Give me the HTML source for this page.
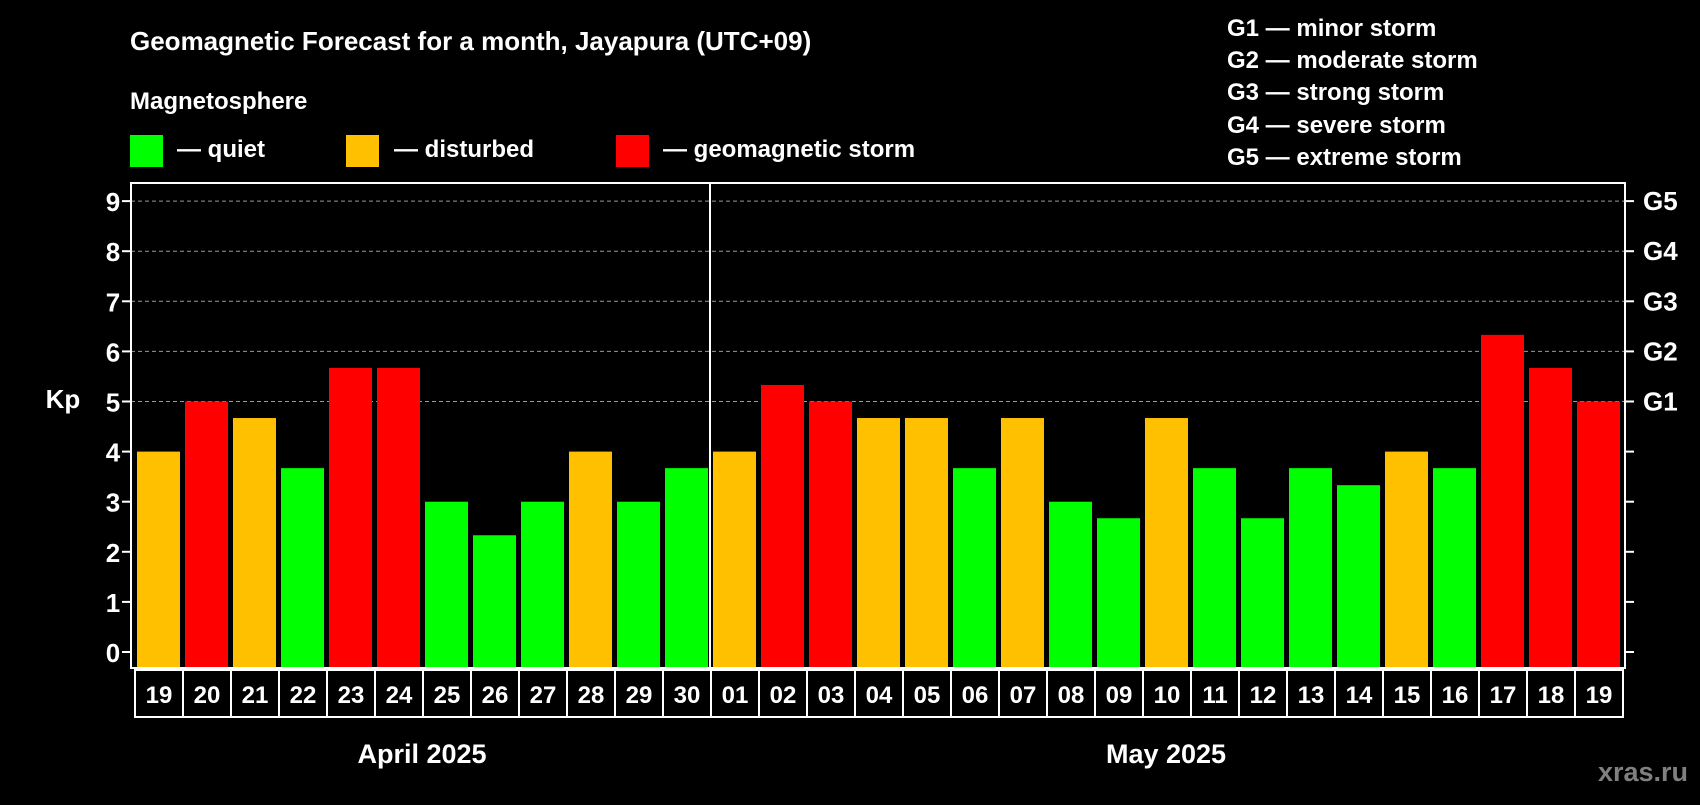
<!DOCTYPE html>
<html><head><meta charset="utf-8"><style>
body{margin:0;background:#000;width:1700px;height:800px;overflow:hidden}
svg text{font-family:"Liberation Sans",Arial,sans-serif;font-weight:bold;fill:#fff}
</style></head><body>
<svg id="chart" width="1700" height="800" xmlns="http://www.w3.org/2000/svg">
<rect width="1700" height="800" fill="#000"/>
<text x="130" y="50" font-size="26">Geomagnetic Forecast for a month, Jayapura (UTC+09)</text>
<text x="130" y="109" font-size="24">Magnetosphere</text>
<rect x="130" y="135" width="33" height="32" fill="#00ff00"/>
<text x="177" y="157" font-size="24">— quiet</text>
<rect x="346" y="135" width="33" height="32" fill="#ffc000"/>
<text x="394" y="157" font-size="24">— disturbed</text>
<rect x="616" y="135" width="33" height="32" fill="#ff0000"/>
<text x="663" y="157" font-size="24">— geomagnetic storm</text>
<g font-size="24">
<text x="1227" y="36">G1 — minor storm</text>
<text x="1227" y="68">G2 — moderate storm</text>
<text x="1227" y="100">G3 — strong storm</text>
<text x="1227" y="133">G4 — severe storm</text>
<text x="1227" y="165">G5 — extreme storm</text>
</g>
<text x="63" y="408" font-size="26" text-anchor="middle">Kp</text>
<text x="422" y="763" font-size="27" text-anchor="middle">April 2025</text>
<text x="1166" y="763" font-size="27" text-anchor="middle">May 2025</text>
<text x="1688" y="781" font-size="27" text-anchor="end" style="fill:#808080">xras.ru</text>
<g id="plot"></g>
</svg>
<script>
const days=["19","20","21","22","23","24","25","26","27","28","29","30","01","02","03","04","05","06","07","08","09","10","11","12","13","14","15","16","17","18","19"];
const kpValues=[4,5,4.67,3.67,5.67,5.67,3,2.33,3,4,3,3.67,4,5.33,5,4.67,4.67,3.67,4.67,3,2.67,4.67,3.67,2.67,3.67,3.33,4,3.67,6.33,5.67,5];
const yTicks=[0,1,2,3,4,5,6,7,8,9];
const gLabels=["G1","G2","G3","G4","G5"];
const gLevels=[5,6,7,8,9];
const NS="http://www.w3.org/2000/svg";
const g=document.getElementById('plot');
const X0=135,CW=48,PB=668,PL=131,PR=1625,PT=183;
const y=v=>652-v*50.1;
const x=i=>X0+i*CW;
function mk(t,a){const e=document.createElementNS(NS,t);for(const k in a)e.setAttribute(k,a[k]);g.appendChild(e);return e;}
// grid
gLevels.forEach((v,i)=>{
 const l=mk('line',{x1:PL,x2:PR,y1:y(v),y2:y(v),stroke:'#999','stroke-dasharray':'4,3','stroke-width':1});
 
 
 const t=mk('text',{x:1643,y:y(v)+9,'font-size':26});t.textContent=gLabels[i];
 
 
});
yTicks.forEach(v=>{
 mk('line',{x1:PL-9,x2:PL,y1:y(v),y2:y(v),stroke:'#fff','stroke-width':2});
 mk('line',{x1:PR,x2:PR+9,y1:y(v),y2:y(v),stroke:'#fff','stroke-width':2});
 const t=mk('text',{x:113,y:y(v)+10,'font-size':26,'text-anchor':'middle'});t.textContent=v;
 
 
});
kpValues.forEach((v,i)=>{
 const c=v>=5?'#ff0000':(v>=4?'#ffc000':'#00ff00');
 const r=mk('rect',{x:x(i)+2,y:y(v),width:43,height:PB-y(v),fill:c});
 
 
 const b=mk('rect',{x:x(i),y:670,width:CW,height:47,fill:'none',stroke:'#fff','stroke-width':2});
 
 
 const t=mk('text',{x:x(i)+CW/2,y:703,'font-size':24,'text-anchor':'middle'});t.textContent=days[i];
 
 
});
const f=mk('rect',{x:PL,y:PT,width:PR-PL,height:PB-PT,fill:'none',stroke:'#fff','stroke-width':2});


const d=mk('line',{x1:x(12)-1,x2:x(12)-1,y1:PT,y2:PB,stroke:'#fff','stroke-width':2});


</script>
</body></html>
